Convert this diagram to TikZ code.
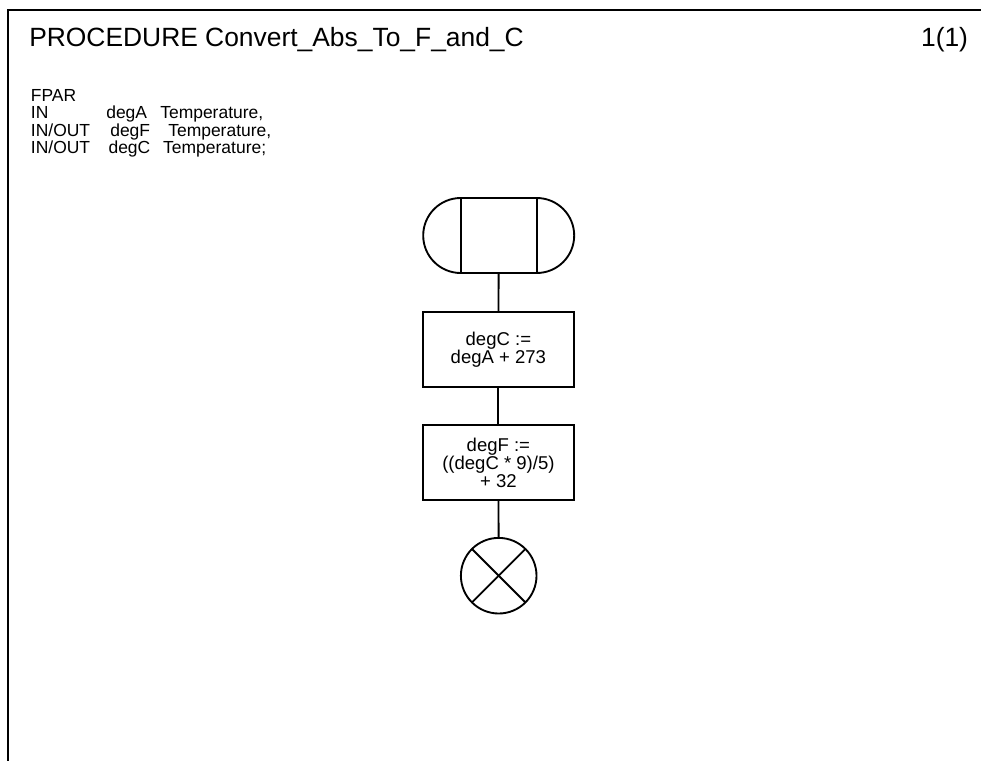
\documentclass[tikz,border=0pt]{standalone}
\usepackage{fontspec}
\setmainfont{Liberation Sans}
\usetikzlibrary{positioning}

\tikzset{
  sdl/line/.style     = {line width=1.4pt},
  sdl/frame/.style    = {line width=1.6pt},
  sdl/task/.style     = {draw, sdl/line, rectangle, minimum width=113.6pt, minimum height=56.25pt,
                         align=center, inner sep=0pt, outer sep=0pt,
                         font=\fontsize{13.9}{13.7}\selectfont},
  sdl/startbox/.style = {draw, sdl/line, rectangle, minimum width=57pt, minimum height=56.25pt,
                         inner sep=0pt, outer sep=0pt},
  sdl/stop/.style     = {draw, sdl/line, circle, minimum size=56.7pt, inner sep=0pt, outer sep=0pt},
  sdl/title/.style    = {anchor=base west, inner sep=0pt, font=\fontsize{19.8}{22}\selectfont},
  sdl/fpar/.style     = {anchor=base west, inner sep=0pt, font=\fontsize{13.1}{13.2}\selectfont},
  sdl/flow/.style     = {sdl/line},
}
\newcommand{\fparcol}[2]{\makebox[#1][l]{#2}}

\begin{document}
\begin{tikzpicture}[x=0.75pt, y=-0.75pt]
  \useasboundingbox (0,0) rectangle (981,760);
  % page frame
  \draw[sdl/frame] (8,775) -- (8,10) -- (995,10);
  % heading
  \node[sdl/title] (title) at (29,46) {PROCEDURE Convert\_Abs\_To\_F\_and\_C};
  \node[sdl/title, anchor=base east] (page) at (968.3,46) {1(1)};
  % formal parameters
  \node[sdl/fpar] (fpar)  at (30.7,101)   {FPAR};
  \node[sdl/fpar] (parA)  at (30.7,118.6) {\fparcol{56.5pt}{IN}\fparcol{40.5pt}{degA}Temperature,};
  \node[sdl/fpar] (parF)  at (30.7,136.2) {\fparcol{59.5pt}{IN/OUT}\fparcol{43.5pt}{degF}Temperature,};
  \node[sdl/fpar] (parC)  at (30.7,153.8) {\fparcol{58.2pt}{IN/OUT}\fparcol{41pt}{degC}Temperature;};
  % procedure start
  \node[sdl/startbox] (start) at (498.7,235.5) {};
  \draw[sdl/line] (start.north west) arc[start angle=90, end angle=270, radius=28.125pt];
  \draw[sdl/line] (start.north east) arc[start angle=90, end angle=-90, radius=28.125pt];
  % tasks
  \node[sdl/task] (convC) at (498.4,349.5) {degC :=\\degA + 273};
  \node[sdl/task] (convF) at (498.4,462.9) {degF :=\\((degC * 9)/5)\\+ 32};
  % return
  \node[sdl/stop] (ret) at (498.7,575.7) {};
  \draw[sdl/line] (ret.45) -- (ret.225);
  \draw[sdl/line] (ret.135) -- (ret.315);
  % flow lines
  \draw[sdl/flow] (start) -- (convC);
  \draw[sdl/flow] (convC) -- (convF);
  \draw[sdl/flow] (convF) -- (ret);
\end{tikzpicture}
\end{document}
